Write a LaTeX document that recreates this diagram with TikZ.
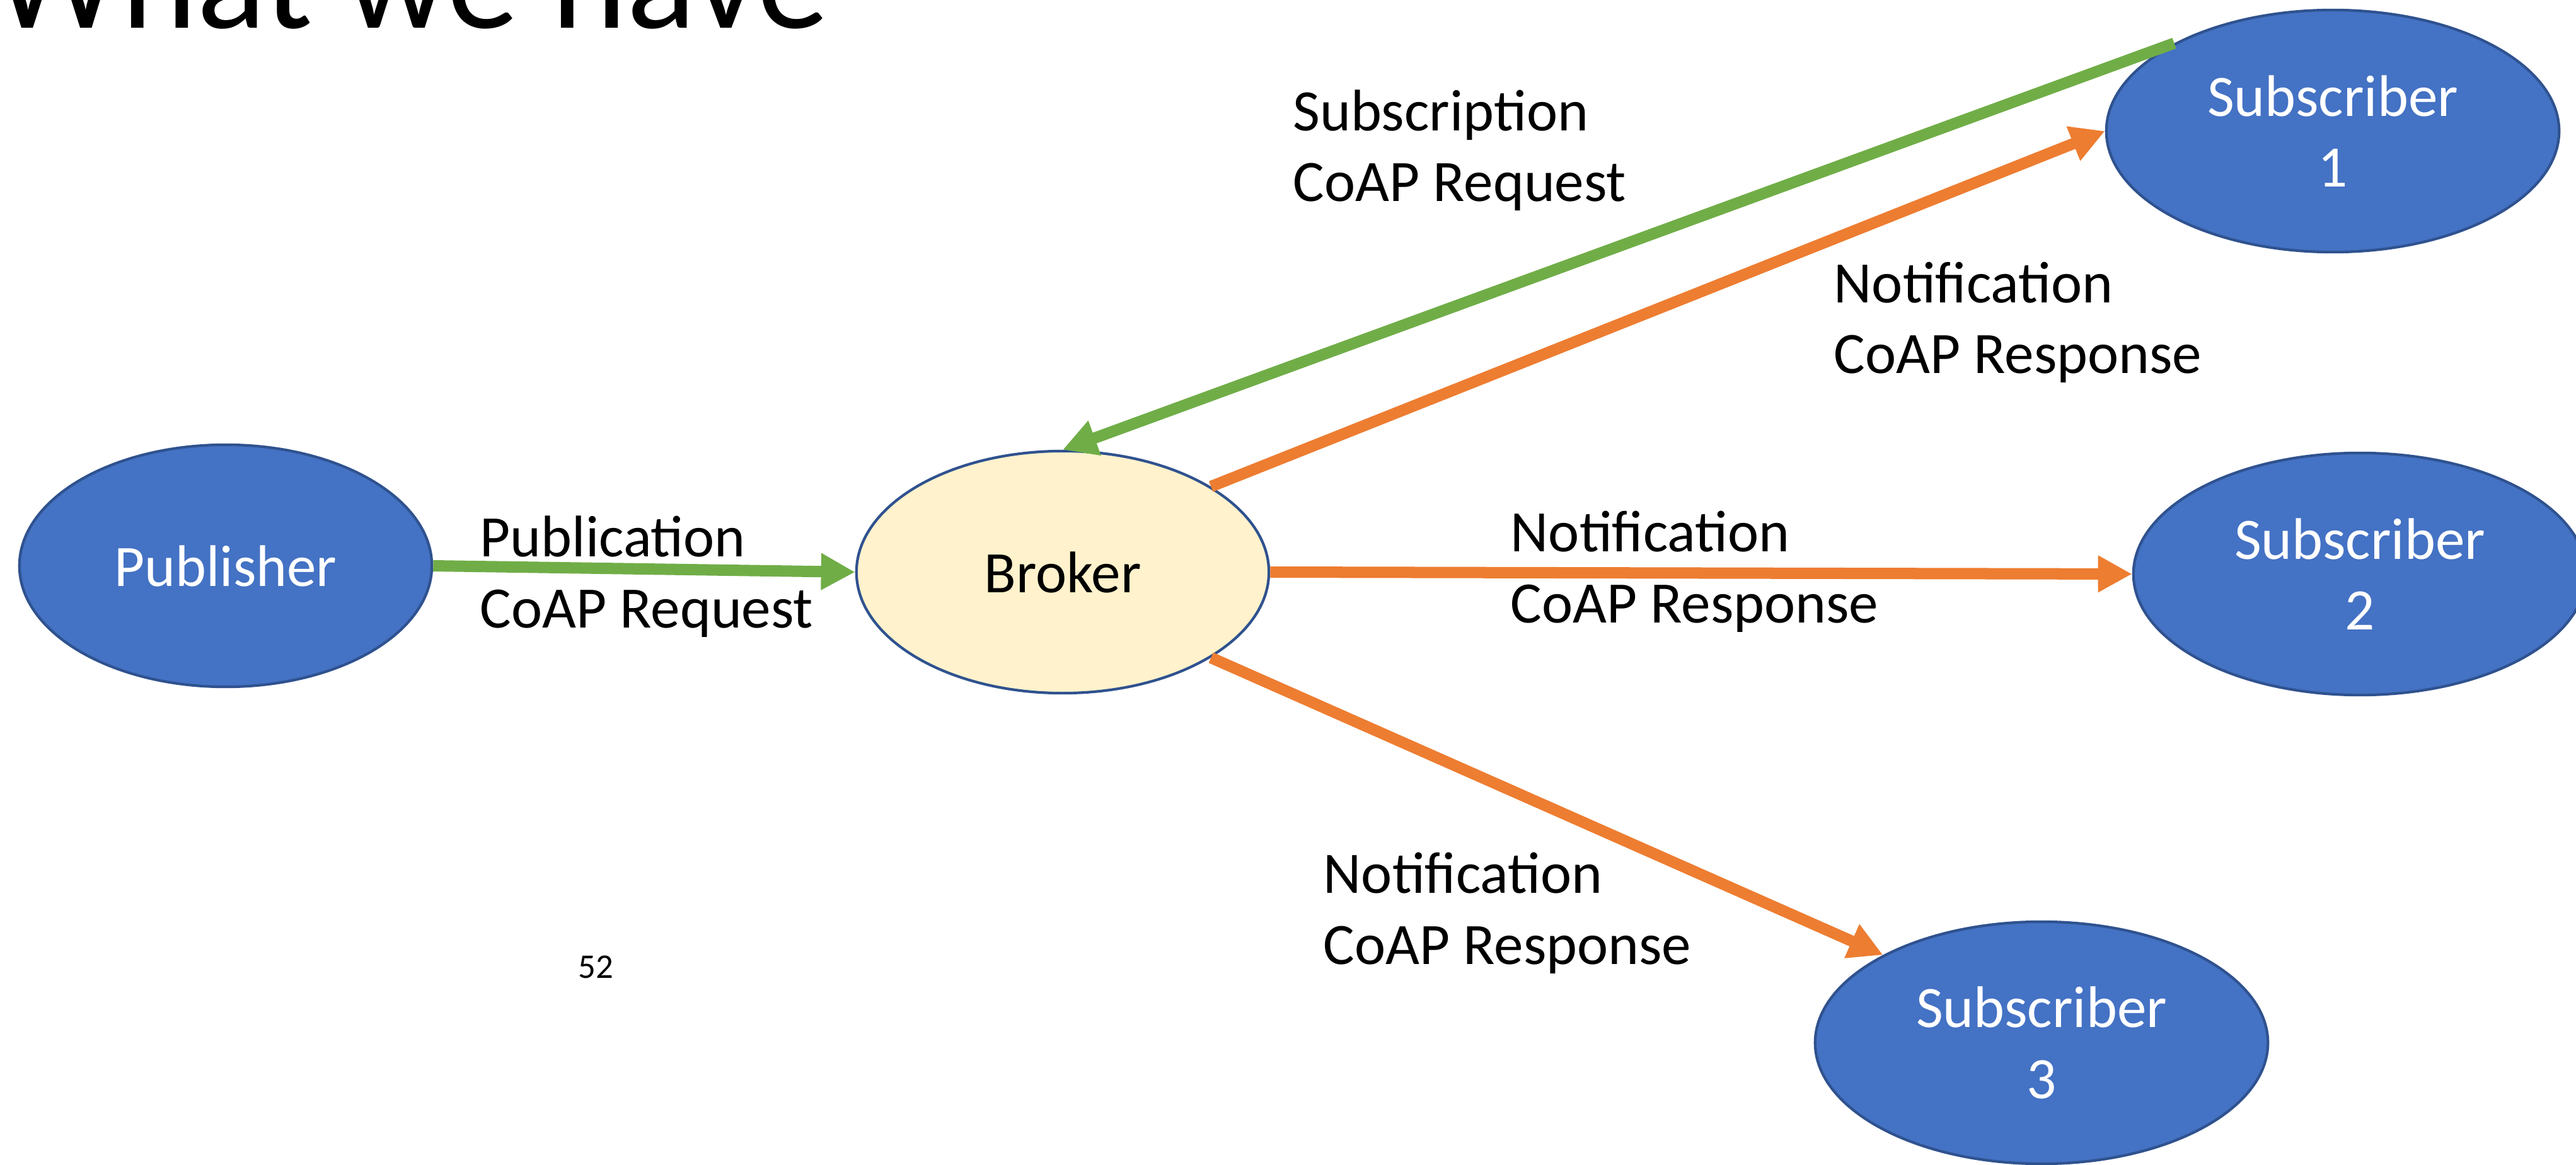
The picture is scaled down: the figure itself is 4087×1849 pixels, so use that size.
\documentclass[tikz,border=0pt]{standalone}
\usepackage{fontspec}
\setmainfont{Carlito}
\usetikzlibrary{arrows.meta,shapes.geometric}

\definecolor{subblue}{HTML}{4472C4}
\definecolor{rimblue}{HTML}{2F528F}
\definecolor{brokercream}{HTML}{FFF2CC}
\definecolor{reqgreen}{HTML}{70AD47}
\definecolor{resporange}{HTML}{ED7D31}

\begin{document}
\begin{tikzpicture}[x=0.01cm, y=-0.01cm, >={Triangle[length=0.54cm,width=0.55cm]},
    client/.style={ellipse, draw=rimblue, line width=1.2pt, fill=subblue, text=white,
        inner sep=0pt, minimum height=3.84cm, align=center,
        font=\fontsize{26.5}{31.9}\selectfont},
    hub/.style={client, fill=brokercream, text=black},
    msg/.style={anchor=base west, inner sep=0pt, align=left,
        font=\fontsize{26.5}{31.9}\selectfont},
    req/.style={->, color=reqgreen, line width=0.18cm},
    resp/.style={->, color=resporange, line width=0.18cm}]
    \useasboundingbox (0,0) rectangle (4087,1849);

    % Title and page number
    \node [anchor=base west, inner sep=0pt, font=\fontsize{65}{78}\selectfont] (title) at (-12,45) {What we have};
    \node [inner sep=0pt, font=\fontsize{15.6}{18}\selectfont] (pagenum) at (945,1535) {52};

    % Nodes {pub, broker, sub1, sub2, sub3}
    \node [client, minimum width=6.54cm] (pub)    at (358,898)   {Publisher};
    \node [hub,    minimum width=6.54cm] (broker) at (1686,908)  {Broker};
    \node [client, minimum width=7.18cm] (sub1)   at (3701,208)  {Subscriber\\1};
    \node [client, minimum width=7.18cm] (sub2)   at (3744,911)  {Subscriber\\2};
    \node [client, minimum width=7.18cm] (sub3)   at (3239,1655) {Subscriber\\3};

    % Labels (base = last line)
    \node [msg] (lpub)  at (761,996)   {Publication\\CoAP Request};
    \node [msg] (lsubs) at (2051,320)  {Subscription\\CoAP Request};
    \node [msg] (lnot1) at (2909,593)  {Notification\\CoAP Response};
    \node [msg] (lnot2) at (2396,988)  {Notification\\CoAP Response};
    \node [msg] (lnot3) at (2099,1530) {Notification\\CoAP Response};

    % Paths
    \path [req]  (pub.east)     edge (broker.west);
    \path [req]  (sub1.151)     edge (broker.north);
    \path [resp] (broker.30)    edge (sub1.west);
    \path [resp] (broker.east)  edge (sub2.west);
    \path [resp] (broker.-30)   edge (sub3.151);

\end{tikzpicture}
\end{document}
